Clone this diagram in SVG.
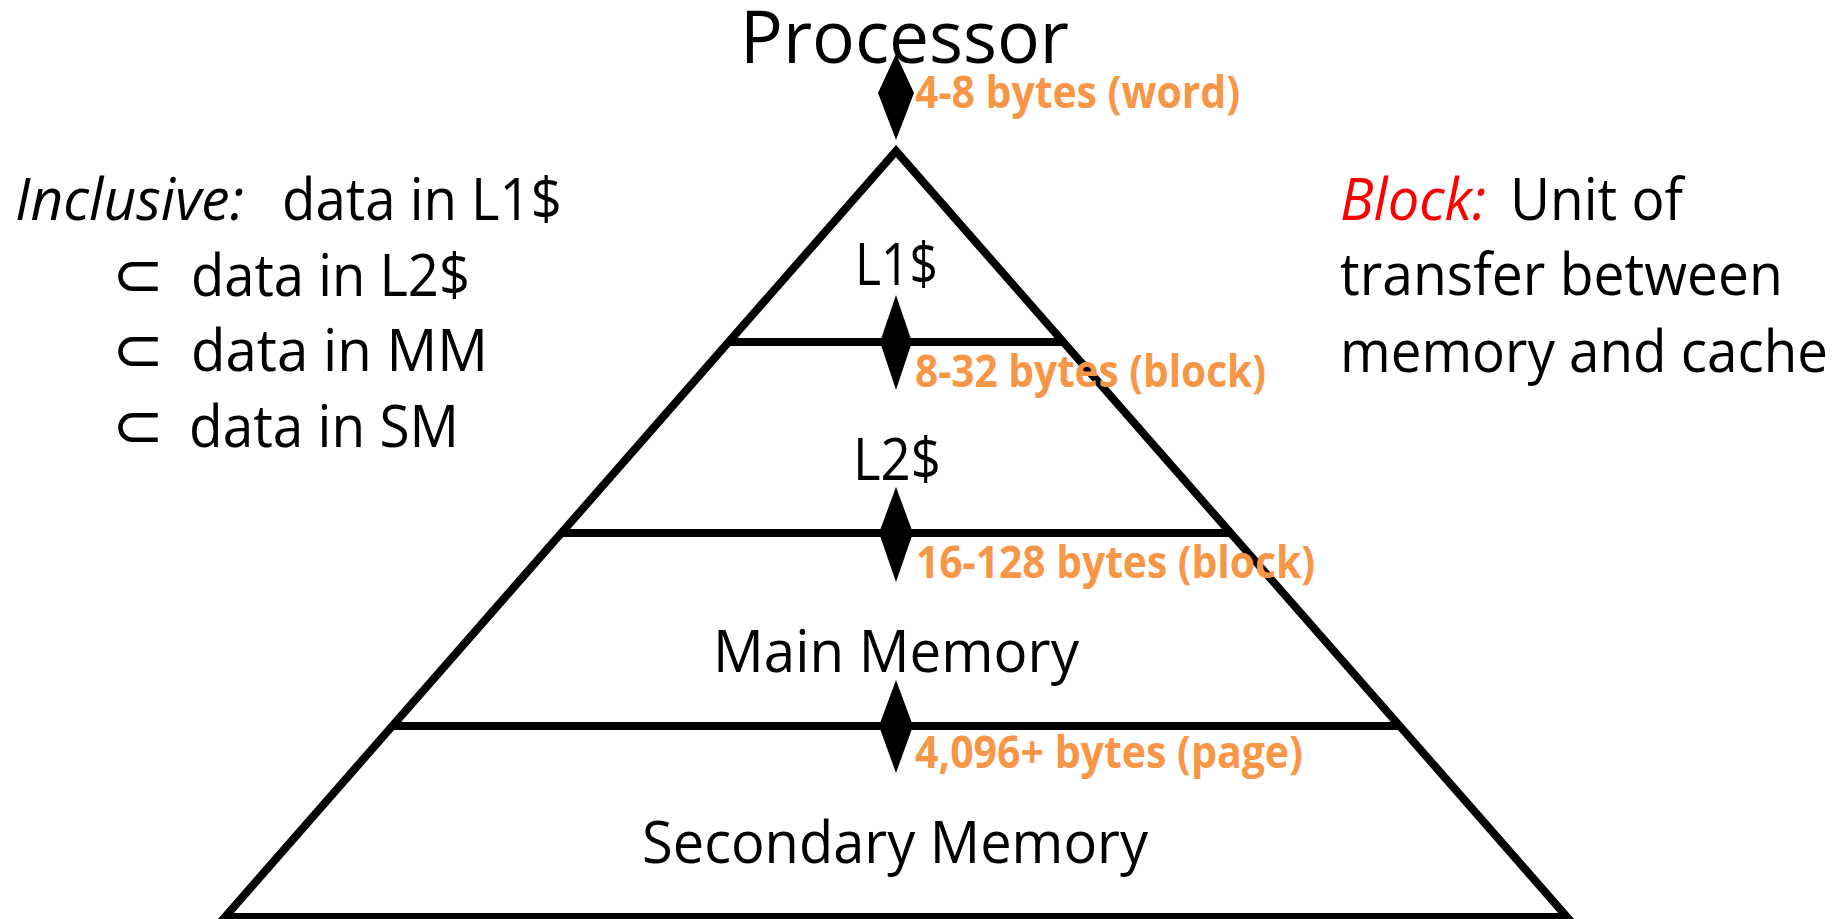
<svg xmlns="http://www.w3.org/2000/svg" width="1839" height="919" viewBox="0 0 1839 919">
<style>
  .t { font-family: "Open Sans", "Liberation Sans", sans-serif; fill: #000; }
  .n { font-size: 58px; }
  .it { font-style: italic; }
  .or { font-family: "Open Sans", "Liberation Sans", sans-serif; font-weight: bold; font-size: 44px; fill: #F79646; }
  .sub { font-family: "DejaVu Sans", sans-serif; font-size: 62px; fill: #000; }
  .edge { fill: none; stroke: #000; stroke-width: 8; stroke-linejoin: miter; }
  .sep { stroke: #000; stroke-width: 8; }
  .dia { fill: #000; }
</style>
<rect width="1839" height="919" fill="#fff"/>

<g id="pyramid">
  <polygon class="edge" points="896,151 1567,917 225,917"/>
</g>

<g id="connectors">
  <line class="sep" x1="728.7" y1="342" x2="1063.3" y2="342"/>
  <line class="sep" x1="561.4" y1="533" x2="1230.6" y2="533"/>
  <line class="sep" x1="392.3" y1="726" x2="1399.7" y2="726"/>
  <polygon class="dia" points="896,54 914,93 896,140 878,93"/>
  <polygon class="dia" points="896,295 912,342 896,390 880,342"/>
  <polygon class="dia" points="896,487 913,533 896,582 879,533"/>
  <polygon class="dia" points="896,680 913,726 896,773 879,726"/>
</g>

<g id="processor">
  <text class="t" x="740" y="63" font-size="73" textLength="329" lengthAdjust="spacingAndGlyphs">Processor</text>
</g>
<g id="l1">
  <text class="t n" x="855" y="285" textLength="83" lengthAdjust="spacingAndGlyphs">L1$</text>
</g>
<g id="l2">
  <text class="t n" x="853" y="480" textLength="88" lengthAdjust="spacingAndGlyphs">L2$</text>
</g>
<g id="mm">
  <text class="t n" x="713" y="672" textLength="366" lengthAdjust="spacingAndGlyphs">Main Memory</text>
</g>
<g id="sm">
  <text class="t n" x="642" y="863" textLength="506" lengthAdjust="spacingAndGlyphs">Secondary Memory</text>
</g>

<g id="labels">
  <text class="or" x="915" y="108" textLength="325" lengthAdjust="spacingAndGlyphs">4-8 bytes (word)</text>
  <text class="or" x="915" y="387" textLength="351" lengthAdjust="spacingAndGlyphs">8-32 bytes (block)</text>
  <text class="or" x="916" y="578" textLength="399" lengthAdjust="spacingAndGlyphs">16-128 bytes (block)</text>
  <text class="or" x="915" y="768" textLength="388" lengthAdjust="spacingAndGlyphs">4,096+ bytes (page)</text>
</g>

<g id="inclusive">
  <text class="t n it" x="15" y="220" textLength="229" lengthAdjust="spacingAndGlyphs">Inclusive:</text>
  <text class="t n" x="282" y="220" textLength="280" lengthAdjust="spacingAndGlyphs">data in L1$</text>
  <text class="sub" x="112" y="296">⊂</text>
  <text class="t n" x="191" y="296" textLength="279" lengthAdjust="spacingAndGlyphs">data in L2$</text>
  <text class="sub" x="112" y="371">⊂</text>
  <text class="t n" x="191" y="371" textLength="297" lengthAdjust="spacingAndGlyphs">data in MM</text>
  <text class="sub" x="112" y="447">⊂</text>
  <text class="t n" x="189" y="447" textLength="270" lengthAdjust="spacingAndGlyphs">data in SM</text>
</g>

<g id="block-def">
  <text class="t n it" x="1340" y="220" style="fill:#FF0000" textLength="146" lengthAdjust="spacingAndGlyphs">Block:</text>
  <text class="t n" x="1510" y="220" textLength="173" lengthAdjust="spacingAndGlyphs">Unit of</text>
  <text class="t n" x="1340" y="295" textLength="443" lengthAdjust="spacingAndGlyphs">transfer between</text>
  <text class="t n" x="1340" y="372" textLength="488" lengthAdjust="spacingAndGlyphs">memory and cache</text>
</g>
</svg>
